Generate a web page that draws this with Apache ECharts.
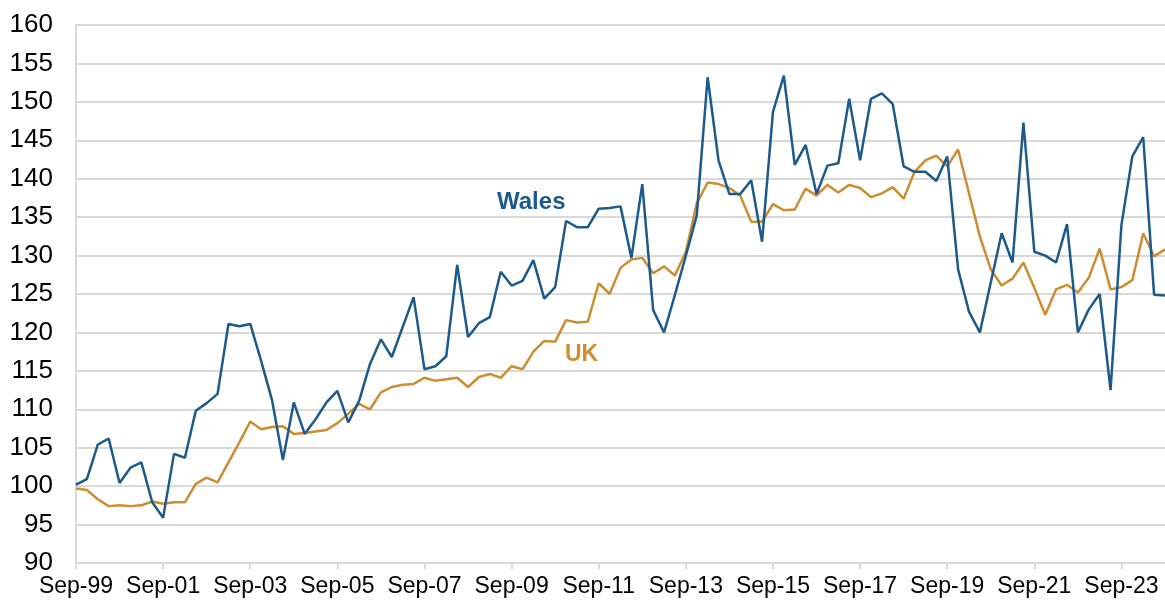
<!DOCTYPE html>
<html>
<head>
<meta charset="utf-8">
<script src="https://cdn.jsdelivr.net/npm/echarts@6/dist/echarts.min.js"></script>
<style>
  html, body { margin: 0; padding: 0; background: #fff; }
  #chart { width: 1165px; height: 604px; }
</style>
</head>
<body>
<div id="chart"></div>
<script>
// quarters, Sep-99 .. Sep-24
const quarters = [
  'Sep-99', 'Dec-99',
  'Mar-00', 'Jun-00', 'Sep-00', 'Dec-00',
  'Mar-01', 'Jun-01', 'Sep-01', 'Dec-01',
  'Mar-02', 'Jun-02', 'Sep-02', 'Dec-02',
  'Mar-03', 'Jun-03', 'Sep-03', 'Dec-03',
  'Mar-04', 'Jun-04', 'Sep-04', 'Dec-04',
  'Mar-05', 'Jun-05', 'Sep-05', 'Dec-05',
  'Mar-06', 'Jun-06', 'Sep-06', 'Dec-06',
  'Mar-07', 'Jun-07', 'Sep-07', 'Dec-07',
  'Mar-08', 'Jun-08', 'Sep-08', 'Dec-08',
  'Mar-09', 'Jun-09', 'Sep-09', 'Dec-09',
  'Mar-10', 'Jun-10', 'Sep-10', 'Dec-10',
  'Mar-11', 'Jun-11', 'Sep-11', 'Dec-11',
  'Mar-12', 'Jun-12', 'Sep-12', 'Dec-12',
  'Mar-13', 'Jun-13', 'Sep-13', 'Dec-13',
  'Mar-14', 'Jun-14', 'Sep-14', 'Dec-14',
  'Mar-15', 'Jun-15', 'Sep-15', 'Dec-15',
  'Mar-16', 'Jun-16', 'Sep-16', 'Dec-16',
  'Mar-17', 'Jun-17', 'Sep-17', 'Dec-17',
  'Mar-18', 'Jun-18', 'Sep-18', 'Dec-18',
  'Mar-19', 'Jun-19', 'Sep-19', 'Dec-19',
  'Mar-20', 'Jun-20', 'Sep-20', 'Dec-20',
  'Mar-21', 'Jun-21', 'Sep-21', 'Dec-21',
  'Mar-22', 'Jun-22', 'Sep-22', 'Dec-22',
  'Mar-23', 'Jun-23', 'Sep-23', 'Dec-23',
  'Mar-24', 'Jun-24', 'Sep-24'
]

const wales = [
  100.2, 100.9,
  105.4, 106.2, 100.4, 102.4,
  103.1, 97.9, 95.9, 104.2,
  103.7, 109.8, 110.8, 112.0,
  121.1, 120.8, 121.1, 116.3,
  111.2, 103.4, 110.9, 106.8,
  108.7, 110.9, 112.4, 108.3,
  111.1, 115.9, 119.1, 116.8,
  120.7, 124.6, 115.2, 115.6,
  116.9, 128.8, 119.4, 121.2,
  122.0, 127.9, 126.1, 126.7,
  129.4, 124.4, 125.9, 134.5,
  133.7, 133.7, 136.1, 136.2,
  136.4, 129.7, 139.3, 122.9,
  120.0, 124.9, 130.0, 135.2,
  153.2, 142.4, 138.0, 138.0,
  139.8, 131.8, 148.7, 153.4,
  141.8, 144.4, 138.0, 141.7,
  142.0, 150.4, 142.4, 150.4,
  151.1, 149.7, 141.6, 140.9,
  140.9, 139.7, 142.9, 128.2,
  122.7, 120.0, 126.5, 132.9,
  129.1, 147.3, 130.5, 130.0,
  129.1, 134.1, 120.0, 123.0,
  125.0, 112.5, 134.0, 142.9,
  145.4, 124.9, 124.8
]

const uk = [
  99.7, 99.5,
  98.3, 97.4, 97.5, 97.4,
  97.5, 98.0, 97.7, 97.9,
  97.9, 100.3, 101.1, 100.5,
  103.1, 105.7, 108.4, 107.4,
  107.7, 107.8, 106.8, 106.9,
  107.1, 107.3, 108.2, 109.4,
  110.7, 110.0, 112.2, 112.9,
  113.2, 113.3, 114.1, 113.7,
  113.9, 114.1, 112.9, 114.2,
  114.6, 114.1, 115.6, 115.2,
  117.5, 118.9, 118.8, 121.6,
  121.3, 121.4, 126.4, 125.0,
  128.4, 129.5, 129.7, 127.7,
  128.6, 127.4, 130.5, 136.8,
  139.5, 139.3, 138.8, 137.8,
  134.4, 134.4, 136.7, 135.9,
  136.0, 138.7, 137.8, 139.2,
  138.2, 139.2, 138.8, 137.6,
  138.1, 138.9, 137.4, 140.9,
  142.4, 143.0, 141.6, 143.8,
  138.1, 132.5, 128.2, 126.1,
  127.0, 129.1, 125.8, 122.3,
  125.6, 126.2, 125.2, 127.1,
  130.9, 125.6, 125.9, 126.8,
  132.9, 129.9, 130.8
]

const walesColor = '#1c5a8c'
const ukColor = '#cc8d30'
const gridColor = '#d9d9d9'
const font = '"Liberation Sans", Arial, sans-serif'

const chart = echarts.init(document.getElementById('chart'))

chart.setOption({
  animation: false,
  grid: { left: 76, right: -1, top: 25, bottom: 41 },
  xAxis: {
    type: 'category',
    data: quarters,
    boundaryGap: false,
    axisLine: { lineStyle: { color: gridColor, width: 2 } },
    axisTick: { interval: 7, length: 6, lineStyle: { color: gridColor, width: 2 } },
    axisLabel: {
      interval: 7,
      color: '#000',
      fontFamily: font,
      fontSize: 23,
      margin: 12
    },
    splitLine: { show: false }
  },
  yAxis: {
    type: 'value',
    min: 90,
    max: 160,
    interval: 5,
    axisLine: { show: true, lineStyle: { color: gridColor, width: 2 } },
    axisTick: { show: false },
    axisLabel: {
      color: '#000',
      fontFamily: font,
      fontSize: 26,
      margin: 23
    },
    splitLine: { lineStyle: { color: gridColor, width: 2 } }
  },
  series: [
    {
      name: 'UK',
      type: 'line',
      data: uk,
      symbol: 'none',
      lineStyle: { color: ukColor, width: 2.5 },
      z: 2
    },
    {
      name: 'Wales',
      type: 'line',
      data: wales,
      symbol: 'none',
      lineStyle: { color: walesColor, width: 2.5 },
      z: 3
    }
  ],
  graphic: [
    {
      type: 'text',
      left: 497,
      top: 190,
      style: {
        text: 'Wales',
        fill: walesColor,
        font: 'bold 24px "Liberation Sans", Arial, sans-serif'
      }
    },
    {
      type: 'text',
      left: 565,
      top: 343,
      style: {
        text: 'UK',
        fill: ukColor,
        font: 'bold 23px "Liberation Sans", Arial, sans-serif'
      }
    }
  ]
})
</script>
</body>
</html>
